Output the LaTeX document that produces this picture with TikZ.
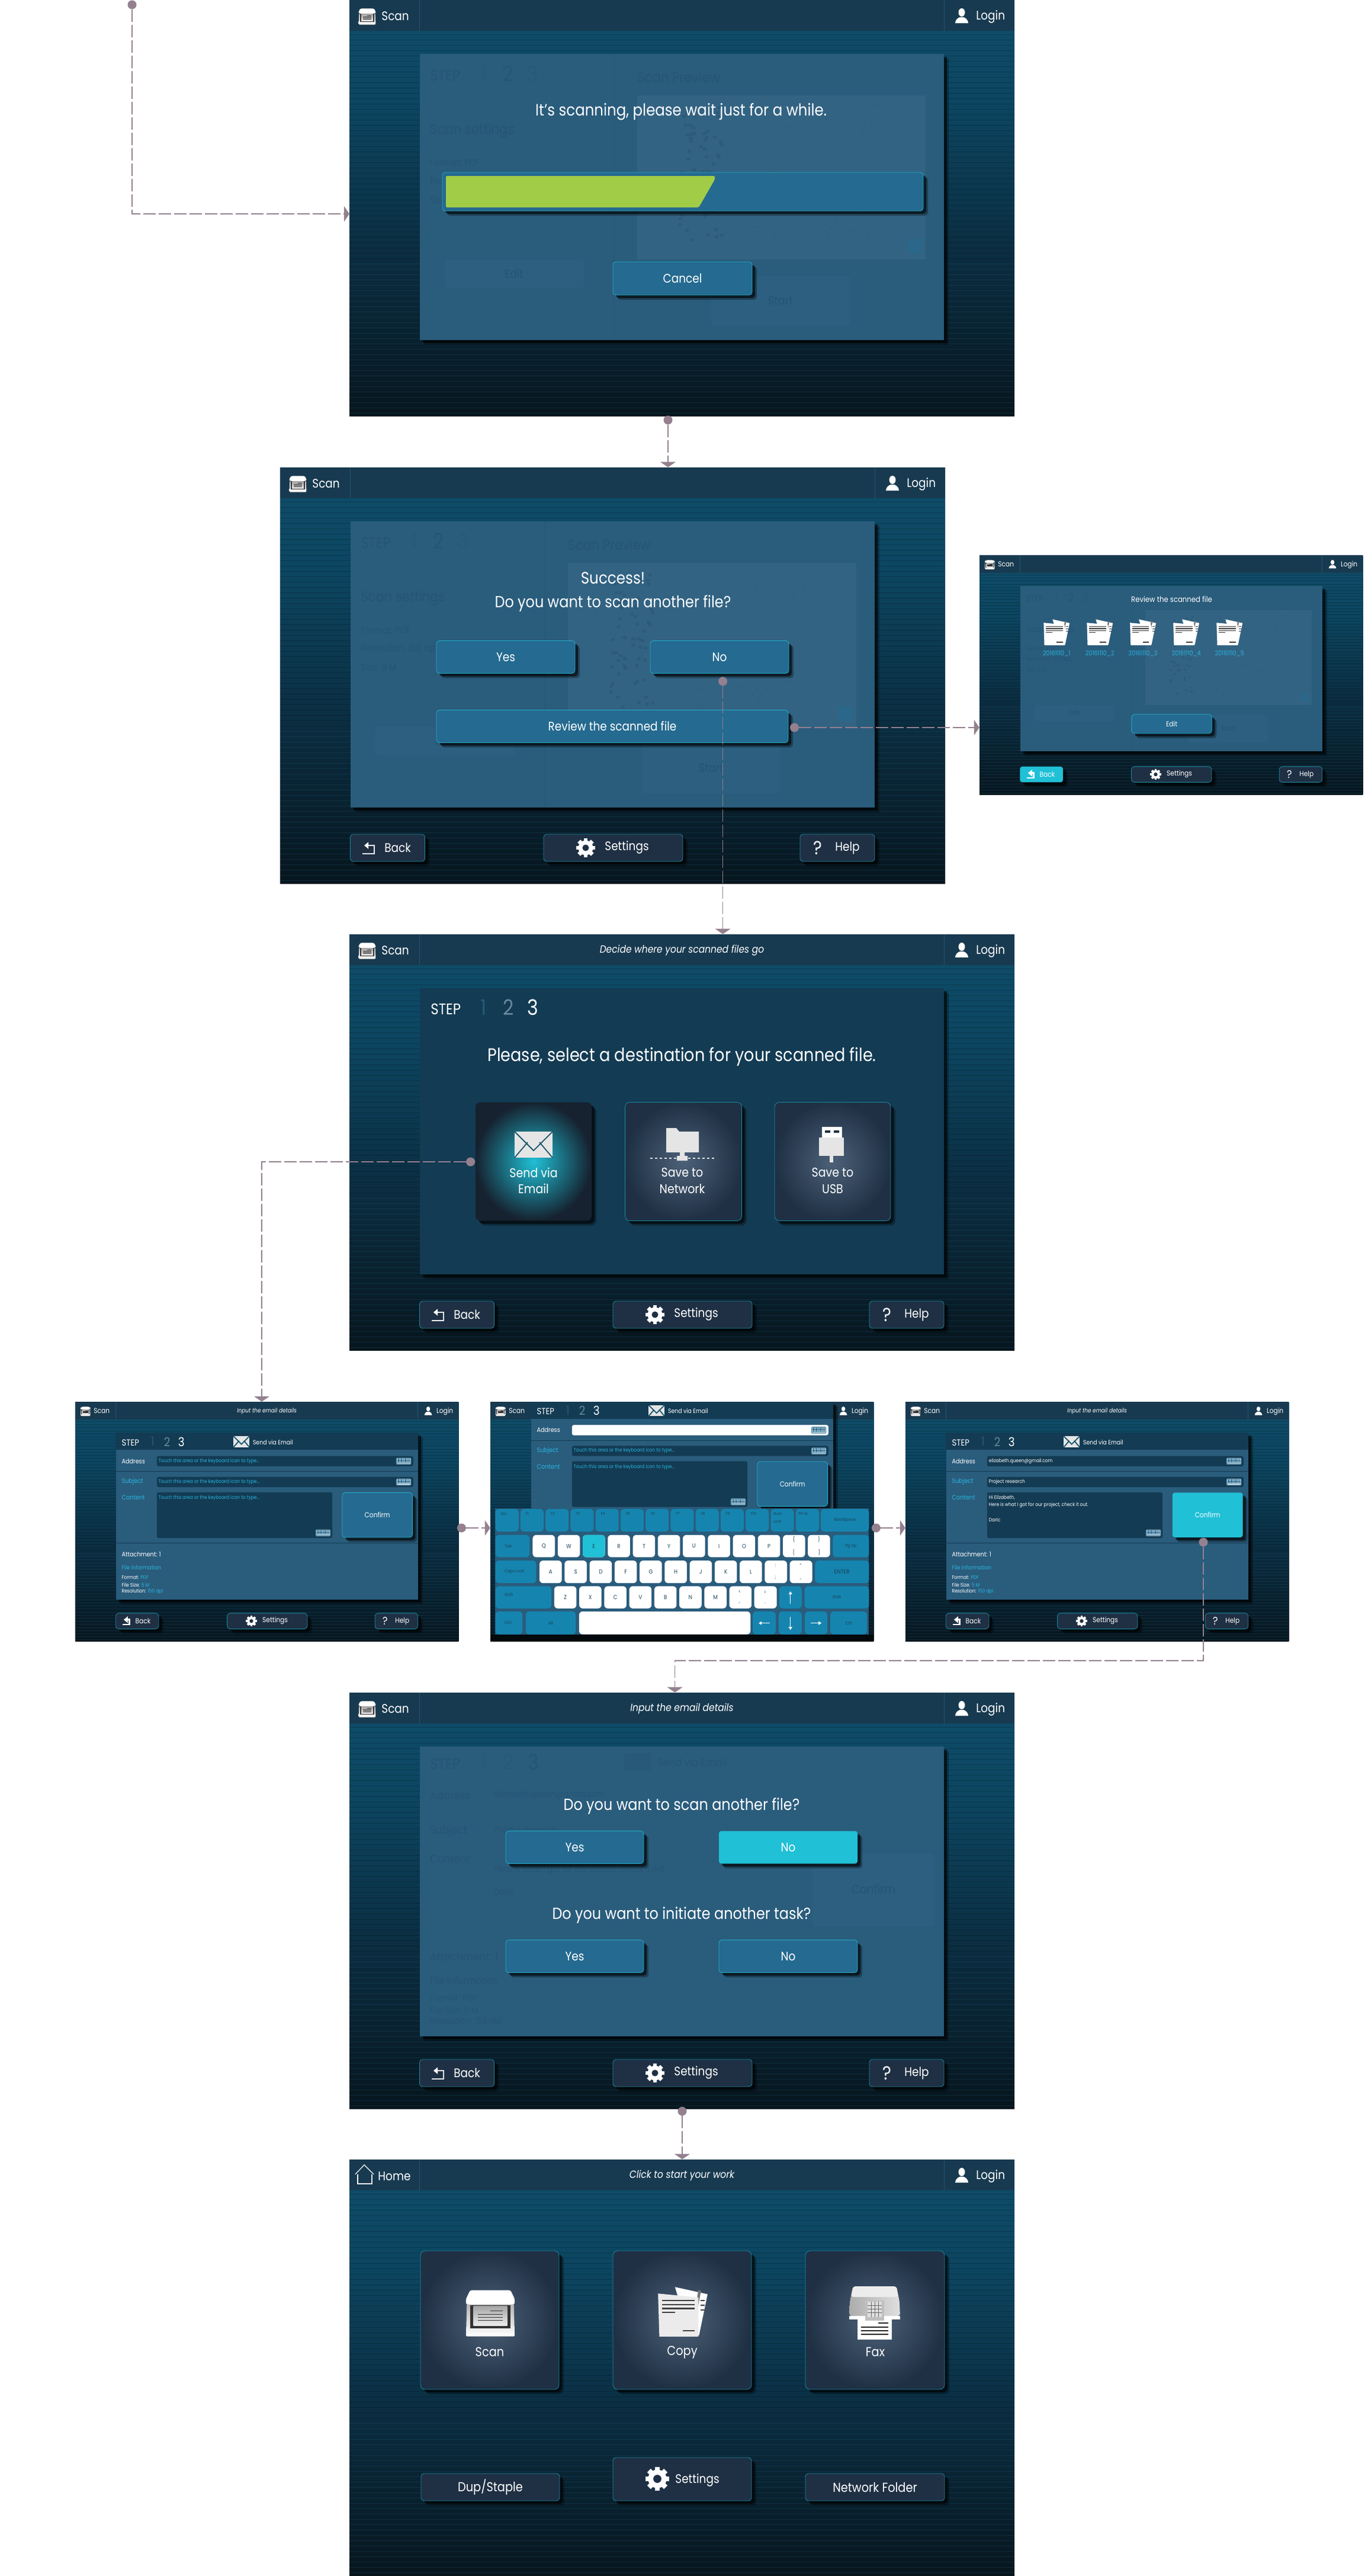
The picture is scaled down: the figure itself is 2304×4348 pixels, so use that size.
\documentclass[tikz,border=0pt]{standalone}
\usepackage{fontspec}
\setmainfont{Poppins}[FakeStretch=0.88]
\usetikzlibrary{arrows.meta,shadows,calc}

\definecolor{barblue}{HTML}{183A50}
\definecolor{bardiv}{HTML}{1C5674}
\definecolor{panelblue}{HTML}{2A5C7C}
\definecolor{paneldark}{HTML}{133B53}
\definecolor{ghosttxt}{HTML}{265575}
\definecolor{ghostfaint}{HTML}{285978}
\definecolor{ghostfill}{HTML}{2C5F80}
\definecolor{previewblue}{HTML}{336382}
\definecolor{previewink}{HTML}{2D5B79}
\definecolor{btnblue}{HTML}{256A90}
\definecolor{btnline}{HTML}{22AECB}
\definecolor{navybtn}{HTML}{1F3044}
\definecolor{cardmid}{HTML}{4C6178}
\definecolor{hotcyan}{HTML}{20C0D6}
\definecolor{barfill}{HTML}{A0CC48}
\definecolor{linkblue}{HTML}{29B4DE}
\definecolor{keyblue}{HTML}{1585B0}
\definecolor{keytxt}{HTML}{1B4358}
\definecolor{flowline}{HTML}{94808F}
\definecolor{screentop}{HTML}{115674}
\definecolor{screenmid}{HTML}{0C4560}
\definecolor{screenlow}{HTML}{0B2E42}
\definecolor{screenend}{HTML}{07161E}

\pgfdeclareverticalshading{screenshade}{100bp}{
  color(0bp)=(screenend); color(25bp)=(screenend);
  color(45bp)=(screenlow); color(62bp)=(screenmid);
  color(88bp)=(screentop); color(100bp)=(screentop)}

\tikzset{
	bw/.style={minimum width={#1*0.5pt}},
	bh/.style={minimum height={#1*0.5pt}},
	fs/.style={font=\fontsize{#1}{#1}\selectfont},
	txt/.style={text=white, inner sep=0pt, fs=10},
	screenbg/.style={shading=screenshade, minimum width=561.5pt, minimum height=351pt, inner sep=0pt},
	stripe/.style={black, opacity=.2, line width=.5pt},
	glowstripe/.style={bardiv, opacity=.3, line width=.5pt},
	topbar/.style={fill=barblue, minimum width=561.5pt, minimum height=26pt, inner sep=0pt},
	dropoff/.style={
		drop shadow={shadow xshift=4pt, shadow yshift=-4pt, fill=black, opacity=.3},
		drop shadow={shadow xshift=2.5pt, shadow yshift=-2.5pt, fill=black, opacity=.6}},
	panelbox/.style={fill=panelblue, inner sep=0pt, dropoff},
	bluebtn/.style={fill=btnblue, draw=btnline, line width=.4pt, rounded corners=2.5pt, inner sep=0pt, text=white, fs=10.5, dropoff},
	navy/.style={fill=navybtn, draw=btnline!80!black, line width=.4pt, rounded corners=2.5pt, inner sep=0pt, text=white, fs=11, dropoff},
	hotbtn/.style={fill=hotcyan, rounded corners=2pt, inner sep=0pt, text=white, fs=10.5, dropoff},
	cardbtn/.style={shading=radial, inner color=cardmid, outer color=navybtn, draw=btnline!80!black, line width=.4pt, rounded corners=4pt, inner sep=0pt, dropoff},
	hotcard/.style={shading=radial, inner color=hotcyan, outer color=navybtn!70!black, rounded corners=4pt, inner sep=0pt, dropoff},
	fieldbox/.style={fill=paneldark, rounded corners=1.5pt, inner sep=0pt},
	bluekey/.style={fill=keyblue, rounded corners=3pt, inner sep=0pt},
	whitekey/.style={fill=white, rounded corners=3pt, inner sep=0pt},
	hotkey/.style={fill=hotcyan, rounded corners=3pt, inner sep=0pt},
	ghostbtn/.style={fill=ghostfill, rounded corners=2pt, inner sep=0pt},
	flowdot/.style={circle, fill=flowline, minimum size=7.5pt, inner sep=0pt},
	flow/.style={flowline, line width=.8pt, dash pattern=on 10.5pt off 2.5pt, -{Triangle[length=4.5pt, width=13pt]}},
	keyarrow/.style={white, line width=.4pt, -{Triangle[length=2.5pt, width=3pt]}}
}

\newcounter{lbl}
\newcommand{\lbl}[3][]{\stepcounter{lbl}\node[txt,#1] (lbl\thelbl) at (#2) {#3};}

% icons, all drawn round their centre
\newcommand{\scanicon}[2]{
	\begin{scope}[shift={(#1)}, scale=#2, xscale=1.42]
		\fill[top color=gray!60, bottom color=white, rounded corners=1pt] (-28,16) -- (28,16) -- (29,-39) -- (-29,-39) -- cycle;
		\fill[black!80] (-24,14) rectangle (24,-25);
		\fill[top color=gray!70, bottom color=gray!15] (-20,12) rectangle (20,-21);
		\foreach \yy in {-1,-6,-11} {\fill[black!80] (-15,\yy) rectangle (15,\yy-1.4);}
		\fill[black!80] (0,5) rectangle (15,3.6);
		\fill[white, rounded corners=1.5pt] (-24,39) -- (24,39) -- (29,24) -- (29,15) -- (-29,15) -- (-29,24) -- cycle;
	\end{scope}
}
\newcommand{\usericon}[1]{
	\begin{scope}[shift={(#1)}]
		\fill[white] (0,6) ellipse (5.5 and 7);
		\fill[white] (-11,-12) .. controls (-10,-4) and (-5,-3) .. (-3,-2) -- (3,-2) .. controls (5,-3) and (10,-4) .. (11,-12) -- cycle;
	\end{scope}
}
\newcommand{\gearicon}[3]{
	\begin{scope}[shift={(#1)}, scale=#2]
		\foreach \a in {0,45,...,315} {\fill[white, rotate=\a] (-3.4,10) rectangle (3.4,16);}
		\fill[white] (0,0) circle (12.5);
		\fill[#3] (0,0) circle (5.5);
	\end{scope}
}
\newcommand{\backicon}[1]{
	\begin{scope}[shift={(#1)}]
		\draw[white, line width=1.4pt, -{Triangle[length=3.5pt, width=5.5pt]}] (-10,-10) -- (10,-10) -- (10,4) -- (-7,4);
	\end{scope}
}
\newcommand{\envicon}[2]{
	\begin{scope}[shift={(#1)}, scale=#2]
		\fill[black!10] (-32,-22) rectangle (32,22);
		\draw[paneldark!80!hotcyan, line width=.9pt] (-32,22) -- (0,-10) -- (32,22) (-32,-22) -- (-10,4) (32,-22) -- (10,4);
	\end{scope}
}
\newcommand{\docicon}[3]{
	\begin{scope}[shift={(#1)}, scale=#2]
		\fill[white] (-12,38) -- (38,27) -- (25,-36) -- (10,-36) -- cycle;
		\fill[black!55] (24,34) -- (28,32) -- (15,-36) -- (13,-36) -- cycle;
		\fill[#3] (-38,28) -- (24,22) -- (24,-38) -- (-36,-38) -- cycle;
		\foreach \yy in {18,12,6} {\fill[black!75] (-32,\yy) rectangle (18,\yy-2);}
		\fill[black!75] (-32,0) rectangle (-12,-2);
		\fill[black!75] (0,-28) rectangle (18,-30);
		\foreach \yy in {18,11,4} {\fill[black!75] (27,\yy) rectangle (34,\yy-2);}
	\end{scope}
}
\newcommand{\faxicon}[2]{
	\begin{scope}[shift={(#1)}, scale=#2]
		\fill[white] (-29,-10) rectangle (29,-46);
		\foreach \yy in {-24,-30,-36} {\fill[black!85] (-23,\yy) rectangle (23,\yy-1.6);}
		\fill[black!85] (6,-17) rectangle (23,-18.6);
		\fill[left color=gray!65, right color=gray!25, rounded corners=2pt] (-37,44) -- (37,44) -- (42,18) -- (43,-6) -- (-43,-6) -- (-42,18) -- cycle;
		\fill[gray!15, rounded corners=2pt] (-36,44) -- (36,44) -- (40,26) -- (-40,26) -- cycle;
		\fill[white] (-43,-6) rectangle (43,-12);
		\fill[gray!50] (-16,20) -- (16,20) -- (16,-14) -- (-16,-14) -- cycle;
		\fill[gray!25] (-12,18) rectangle (12,-8);
		\foreach \xx in {-6,0,6} {\draw[black!60, line width=.3pt] (\xx,18) -- (\xx,-8);}
		\foreach \yy in {12,6,0} {\draw[black!60, line width=.3pt] (-12,\yy) -- (12,\yy);}
	\end{scope}
}
\newcommand{\kbdicon}[1]{
	\begin{scope}[shift={(#1)}]
		\fill[btnblue!70!white, rounded corners=1pt] (-22,-10) rectangle (22,10);
		\fill[white!80!btnblue] (-19,-3) rectangle (19,7);
		\foreach \xx in {-17,-14,...,17} {\draw[btnblue, line width=.25pt] (\xx,-3) -- (\xx,7);}
		\draw[btnblue, line width=.25pt] (-19,2) -- (19,2);
		\fill[white!80!btnblue] (-19,-7) rectangle (19,-5);
	\end{scope}
}

% the frame every screen shares
\newcommand{\scantab}{
	\scanicon{30,-28}{.35}
	\lbl[anchor=west, fs=10.5]{54,-27}{Scan}
}
\newcommand{\hometab}{
	\draw[white, line width=.6pt] (10,-25) -- (25,-9) -- (41,-25);
	\draw[white, line width=.6pt] (14,-25) -- (14,-41) -- (38,-41) -- (38,-25);
	\lbl[anchor=west, fs=10.5]{48,-28}{Home}
}
\newcommand{\screenframe}[3][\scantab]{
	\node[screenbg] (#2) at (561.5,-351) {};
	\foreach \yy in {58,67,...,436} {\draw[stripe] (0,-\yy) -- (1123,-\yy);}
	\foreach \yy in {445,454,...,700} {\draw[glowstripe] (0,-\yy) -- (1123,-\yy);}
	\node[topbar] (#2bar) at (561.5,-26) {};
	\draw[bardiv, line width=.4pt] (118,0) -- (118,-52) (1004,0) -- (1004,-52);
	#1
	\usericon{1034,-27}
	\lbl[anchor=west, fs=10.5]{1058,-28}{Login}
	\lbl[fs=8.8, font=\fontsize{8.8}{8.8}\selectfont\itshape]{561.5,-27}{#3}
}
\newcommand{\footerbar}[2][navy]{
	\node[#1, bw=126, bh=46] (#2back) at (181.5,-642) {};
	\backicon{149,-642}
	\lbl[anchor=west, fs=10.5]{176,-642}{Back}
	\node[navy, bw=235, bh=46] (#2set) at (562.5,-642) {};
	\gearicon{516,-642}{1}{navybtn}
	\lbl[anchor=west, fs=10.5]{548,-641}{Settings}
	\node[navy, bw=126, bh=46] (#2help) at (941,-642) {};
	\lbl[fs=16]{908,-642}{?}
	\lbl[anchor=west, fs=10.5]{937,-642}{Help}
}
% the earlier step, seen through a dialog
\newcommand{\ghostscan}{
	\fill[ghostfaint] (446,-91) rectangle (448,-574);
	\lbl[anchor=west, fs=13, text=ghosttxt]{136,-127}{STEP}
	\lbl[fs=18, text=ghostfaint]{227,-124}{1}
	\lbl[fs=18, text=ghosttxt]{268,-124}{2}
	\lbl[fs=18, text=ghostfaint]{310,-124}{3}
	\lbl[anchor=west, fs=12, text=ghosttxt]{486,-130}{Scan Preview}
	\lbl[anchor=west, fs=12, text=ghosttxt]{136,-221}{Scan settings}
	\lbl[anchor=west, fs=8, text=ghosttxt]{136,-275}{Format: PDF}
	\lbl[anchor=west, fs=8, text=ghosttxt]{136,-306}{Resolution: 150 dpi}
	\lbl[anchor=west, fs=8, text=ghosttxt]{136,-338}{Size: 8 M}
	\fill[previewblue] (486,-161) rectangle (973,-438);
	\pgfmathsetseed{11}
	\foreach \i in {1,...,70} {
		\pgfmathsetmacro\gx{556+rnd*72}
		\pgfmathsetmacro\gy{-178-rnd*228}
		\fill[previewink] (\gx,\gy) rectangle ++(6,-5);
	}
	\foreach \sx/\sy in {695/178,800/178,695/290,800/290,695/360,800/360} {
		\foreach \i in {1,...,7} {
			\pgfmathsetmacro\ga{\sx+rnd*85}
			\pgfmathsetmacro\gb{-\sy-rnd*50}
			\draw[previewink, line width=.2pt] (\ga,\gb) -- ++(rnd*30-15,rnd*30-15);
		}
	}
	\fill[btnblue!60!previewblue] (942,-403) rectangle (967,-428);
	\node[ghostbtn, bw=235, bh=48] (ghostedit\thelbl) at (278.5,-462) {};
	\lbl[fs=10, text=ghosttxt]{278,-462}{Edit}
	\node[ghostbtn, bw=234, bh=84] (ghoststart\thelbl) at (728,-508) {};
	\lbl[fs=10, text=ghosttxt]{728,-508}{Start}
}
% the email form: name, three field texts, text colour, confirm style, address fill
\newcommand{\emailform}[7]{
	\node[panelbox, bw=885, bh=489] (#1panel) at (561.5,-335.5) {};
	\fill[paneldark] (118.5,-91) rectangle (1003.5,-141);
	\fill[paneldark] (118.5,-203) rectangle (1003.5,-205);
	\fill[paneldark] (118.5,-412) rectangle (1003.5,-415);
	\lbl[anchor=west, fs=13]{136,-120}{STEP}
	\lbl[fs=18, text=ghostfaint]{227,-117}{1}
	\lbl[fs=18, text=ghosttxt!70!white]{269,-117}{2}
	\lbl[fs=18]{311,-117}{3}
	\envicon{487,-117}{.72}
	\lbl[anchor=west, fs=9.2]{520,-118}{Send via Email}
	\lbl[anchor=west, fs=9.5]{136,-174}{Address}
	\node[fieldbox, fill=#7, bw=751, bh=30] (#1addr) at (614.5,-174) {};
	\kbdicon{962,-174}
	\lbl[anchor=west, fs=7.4, text=#5]{244,-174}{#2}
	\lbl[anchor=west, fs=9.5, text=linkblue]{136,-234}{Subject}
	\node[fieldbox, bw=751, bh=30] (#1subj) at (614.5,-235) {};
	\kbdicon{962,-235}
	\lbl[anchor=west, fs=7.4, text=#5]{244,-234}{#3}
	\lbl[anchor=west, fs=9.5, text=linkblue]{136,-281}{Content}
	\node[fieldbox, bw=514, bh=134] (#1body) at (496,-332) {};
	\kbdicon{726,-384}
	\lbl[anchor=north west, align=left, fs=7.4, text=#5]{244,-274}{#4}
	\node[#6, bw=206, bh=131] (#1ok) at (885,-331.5) {Confirm};
	\lbl[anchor=west, fs=9.5]{136,-446}{Attachment: 1}
	\lbl[anchor=west, fs=8.5, text=linkblue]{136,-486}{File Information}
	\lbl[anchor=west, fs=7.5]{136,-515}{Format: \textcolor{linkblue}{PDF}}
	\lbl[anchor=west, fs=7.5]{136,-536}{File Size: \textcolor{linkblue}{5 M}}
	\lbl[anchor=west, fs=7.5]{136,-556}{Resolution: \textcolor{linkblue}{150 dpi}}
}
\newcommand{\keycap}[6][bluekey]{
	\pgfmathsetmacro\kx{(#2+#3)/2}
	\pgfmathsetmacro\ky{-(#4+#5)/2}
	\pgfmathsetmacro\kw{#3-#2}
	\pgfmathsetmacro\kh{#5-#4}
	\stepcounter{lbl}
	\node[#1, bw=\kw, bh=\kh, text=keytxt, fs=6.5] (key\thelbl) at (\kx,\ky) {#6};
}

\begin{document}
\begin{tikzpicture}[x=.5pt, y=.5pt]
	\fill[white] (0,0) rectangle (2304,-4348);
	\useasboundingbox (0,0) rectangle (2304,-4348);

	% scanning
	\begin{scope}[shift={(590,0)}]
		\screenframe{scanwait}{}
		\node[panelbox, bw=885, bh=483] (scanwaitpanel) at (561.5,-332.5) {};
		\ghostscan
		\lbl[fs=13.9]{560,-189}{It’s scanning, please wait just for a while.}
		\node[bluebtn, bw=812, bh=65] (progress) at (563,-323.5) {};
		\fill[barfill, rounded corners=1pt] (163,-297) -- (617,-297) -- (617,-303) -- (590,-350) -- (163,-350) -- cycle;
		\node[bluebtn, bw=235, bh=56] (cancel) at (562.5,-470) {Cancel};
	\end{scope}

	% success
	\begin{scope}[shift={(473,-789)}]
		\screenframe{success}{}
		\node[panelbox, bw=885, bh=483] (successpanel) at (561.5,-332.5) {};
		\ghostscan
		\lbl[fs=14]{562,-187}{Success!}
		\lbl[fs=13.6]{562,-230}{Do you want to scan another file?}
		\node[bluebtn, bw=234, bh=55] (successyes) at (381,-320) {Yes};
		\node[bluebtn, bw=234, bh=55] (successno) at (742,-320) {No};
		\node[bluebtn, bw=594, bh=55] (successreview) at (561,-437) {Review the scanned file};
		\footerbar{success}
	\end{scope}

	% review
	\begin{scope}[shift={(1654,-937)}, scale=.5765, transform shape]
		\screenframe{review}{}
		\node[panelbox, bw=885, bh=483] (reviewpanel) at (561.5,-332.5) {};
		\ghostscan
		\lbl[fs=11.5]{563,-129}{Review the scanned file}
		\foreach \dx [count=\n] in {226,352.6,478.9,605.6,732.4} {
			\docicon{\dx,-226}{1}{white}
			\lbl[fs=9.5, text=linkblue]{\dx,-288}{20161110\_\n}
		}
		\node[bluebtn, bw=235, bh=56] (reviewedit) at (563,-494) {Edit};
		\footerbar[hotbtn]{review}
	\end{scope}

	% destination
	\begin{scope}[shift={(590,-1577)}]
		\screenframe{dest}{Decide where your scanned files go}
		\node[panelbox, fill=paneldark, bw=885, bh=483] (destpanel) at (561.5,-332.5) {};
		\lbl[anchor=west, fs=13]{137,-126}{STEP}
		\lbl[fs=18, text=ghostfaint]{227,-123}{1}
		\lbl[fs=18, text=ghosttxt!70!white]{269,-123}{2}
		\lbl[fs=18]{310,-123}{3}
		\lbl[fs=15.4]{561.5,-207}{Please, select a destination for your scanned file.}
		\node[hotcard, bw=196, bh=200] (destmail) at (311,-383.5) {};
		\node[cardbtn, bw=197, bh=200] (destnet) at (564,-383.5) {};
		\node[cardbtn, bw=196, bh=200] (destusb) at (816,-383.5) {};
		\envicon{311,-355}{1}
		\lbl[align=center, fs=10.8]{311,-416}{Send via\\[3pt]Email}
		\fill[black!10] (535,-333) -- (535,-327) -- (552,-327) -- (557,-333) -- (590,-333) -- (590,-368) -- (535,-368) -- cycle;
		\fill[black!10] (558,-368) rectangle (566,-378) (553,-374) rectangle (571,-382);
		\draw[black!10, line width=1pt, dash pattern=on 2pt off 2pt] (508,-378) -- (616,-378);
		\lbl[align=center, fs=10.8]{562,-416}{Save to\\[3pt]Network}
		\fill[white] (798,-325) rectangle (832,-343);
		\fill[navybtn] (803,-331) rectangle (812,-335) (818,-331) rectangle (827,-335);
		\fill[black!10] (793,-343) rectangle (835,-374);
		\fill[black!10] (811,-374) rectangle (817,-385);
		\lbl[align=center, fs=10.8]{816,-416}{Save to\\[3pt]USB}
		\footerbar{dest}
	\end{scope}

	% email details
	\begin{scope}[shift={(127,-2366)}, scale=.5765, transform shape]
		\screenframe{mailempty}{Input the email details}
		\emailform{mailempty}{Touch this area or the keyboard icon to type...}{Touch this area or the keyboard icon to type...}{Touch this area or the keyboard icon to type...}{linkblue}{bluebtn}{paneldark}
		\footerbar{mailempty}
	\end{scope}

	% typing
	\begin{scope}[shift={(828,-2366)}, scale=.5765, transform shape]
		\screenframe{mailkeys}{}
		\begin{scope}[shift={(0,91)}]
			\emailform{mailkeys}{}{Touch this area or the keyboard icon to type...}{Touch this area or the keyboard icon to type...}{linkblue}{bluebtn}{white}
		\end{scope}
		\fill[panelblue] (14,-313) rectangle (1109,-681);
		\fill[black!85!paneldark] (0,-681) rectangle (1123,-702);
		\keycap{15}{83}{314}{380}{}
		\foreach \k [count=\n from 1] in {F1,F2,F3,F4,F5,F6,F7,F8,F9,F10,,} {
			\pgfmathsetmacro\kl{15+73.3*\n}
			\pgfmathsetmacro\kr{\kl+67.7}
			\keycap{\kl}{\kr}{314}{380}{}
		}
		\lbl[anchor=west, fs=6, text=keytxt]{31,-328}{Esc}
		\foreach \k [count=\n from 1] in {F1,F2,F3,F4,F5,F6,F7,F8,F9,F10} {
			\pgfmathsetmacro\kl{15+73.3*\n+15}
			\lbl[anchor=west, fs=6, text=keytxt]{\kl,-328}{\k}
		}
		\lbl[anchor=north west, align=left, fs=6, text=keytxt]{829,-324}{Num\\[5pt]Lock}
		\lbl[anchor=west, fs=6, text=keytxt]{902,-328}{Prt Sc}
		\keycap{968}{1109}{314}{380}{Backspace}
		% second row
		\keycap{15}{115}{390}{455}{}
		\lbl[anchor=west, fs=6.5, text=keytxt]{41,-422}{Tab}
		\foreach \k [count=\n from 0] in {Q,W,E,R,T,Y,U,I,O,P} {
			\pgfmathsetmacro\kl{124+73.3*\n}
			\pgfmathsetmacro\kr{\kl+65.3}
			\keycap[whitekey]{\kl}{\kr}{390}{455}{\fontsize{8.5}{8.5}\selectfont\k}
		}
		\keycap[hotkey]{270.6}{335.9}{390}{455}{\fontsize{8.5}{8.5}\selectfont E}
		\keycap[whitekey]{857}{922}{390}{455}{}
		\lbl[align=center, fs=7.5, text=keytxt]{889,-422}{\{\\[9pt]{[}}
		\keycap[whitekey]{930}{995}{390}{455}{}
		\lbl[align=center, fs=7.5, text=keytxt]{963,-422}{\}\\[9pt]{]}}
		\keycap{1003}{1109}{390}{455}{Pg Up}
		% third row
		\keycap{15}{134}{465}{531}{}
		\lbl[anchor=west, fs=6.5, text=keytxt]{41,-498}{Caps Lock}
		\foreach \k [count=\n from 0] in {A,S,D,F,G,H,J,K,L} {
			\pgfmathsetmacro\kl{144+73.3*\n}
			\pgfmathsetmacro\kr{\kl+65.3}
			\keycap[whitekey]{\kl}{\kr}{465}{531}{\fontsize{8.5}{8.5}\selectfont\k}
		}
		\keycap[whitekey]{803.7}{869}{465}{531}{}
		\lbl[align=center, fs=7, text=keytxt]{835,-498}{:\\[10pt];}
		\keycap[whitekey]{877}{943}{465}{531}{}
		\lbl[align=center, fs=7, text=keytxt]{909,-498}{"\\[10pt],}
		\keycap{951}{1109}{465}{531}{\fontsize{9}{9}\selectfont ENTER}
		% fourth row
		\keycap{15}{179}{540}{605}{}
		\lbl[anchor=west, fs=6.5, text=keytxt]{41,-565}{Shift}
		\foreach \k [count=\n from 0] in {Z,X,C,V,B,N,M} {
			\pgfmathsetmacro\kl{187+73.3*\n}
			\pgfmathsetmacro\kr{\kl+65.3}
			\keycap[whitekey]{\kl}{\kr}{540}{605}{\fontsize{8.5}{8.5}\selectfont\k}
		}
		\keycap[whitekey]{700}{765.3}{540}{605}{}
		\lbl[align=center, fs=7, text=keytxt]{730,-572}{<\\[7pt],}
		\keycap[whitekey]{773}{839}{540}{605}{}
		\lbl[align=center, fs=7, text=keytxt]{805,-572}{>\\[7pt].}
		\keycap{846.5}{912}{540}{605}{}
		\draw[keyarrow] (879,-591) -- (879,-555);
		\keycap{920.6}{1109}{540}{605}{Shift}
		% bottom row
		\keycap{15}{94}{614}{681}{}
		\lbl[anchor=west, fs=6.5, text=keytxt]{41,-646}{Ctrl}
		\keycap{104}{250}{614}{681}{Alt}
		\keycap[whitekey]{260}{762}{614}{681}{}
		\keycap{768.5}{835.7}{614}{681}{}
		\draw[keyarrow] (818,-648) -- (786,-648);
		\keycap{845}{912}{614}{681}{}
		\draw[keyarrow] (879,-630) -- (879,-668);
		\keycap{921.4}{987}{614}{681}{}
		\draw[keyarrow] (938,-648) -- (970,-648);
		\keycap{996}{1103}{614}{681}{Ctrl}
	\end{scope}

	% filled in
	\begin{scope}[shift={(1529,-2366)}, scale=.5765, transform shape]
		\screenframe{mailfull}{Input the email details}
		\emailform{mailfull}{elizabeth.queen@gmail.com}{Project research}{Hi Elizabeth,\\[3pt]Here is what I got for our project, check it out.\\[14pt]Daric}{white}{hotbtn}{paneldark}
		\footerbar{mailfull}
	\end{scope}

	% another task
	\begin{scope}[shift={(590,-2857)}]
		\screenframe{again}{Input the email details}
		\node[panelbox, bw=885, bh=489] (againpanel) at (561.5,-335.5) {};
		\lbl[anchor=west, fs=13, text=ghosttxt]{136,-120}{STEP}
		\lbl[fs=18, text=ghostfaint]{227,-117}{1}
		\lbl[fs=18, text=ghostfaint]{269,-117}{2}
		\lbl[fs=18, text=ghosttxt]{311,-117}{3}
		\lbl[anchor=west, fs=9.2, text=ghosttxt]{520,-118}{Send via Email}
		\fill[ghostfaint] (464,-102) rectangle (510,-132);
		\lbl[anchor=west, fs=9.5, text=ghosttxt]{136,-174}{Address}
		\lbl[anchor=west, fs=7.4, text=ghosttxt]{244,-173}{elizabeth.queen@gmail.com}
		\lbl[anchor=west, fs=9.5, text=ghosttxt]{136,-234}{Subject}
		\lbl[anchor=west, fs=7.4, text=ghosttxt]{244,-233}{Project research}
		\lbl[anchor=west, fs=9.5, text=ghosttxt]{136,-281}{Content}
		\lbl[anchor=west, fs=7.4, text=ghosttxt]{244,-299}{Here is what I got for our project, check it out.}
		\lbl[anchor=west, fs=7.4, text=ghosttxt]{244,-336}{Daric}
		\node[ghostbtn, bw=206, bh=125] (againghost) at (885,-333) {};
		\lbl[fs=10.5, text=ghosttxt]{885,-332}{Confirm}
		\lbl[anchor=west, fs=9.5, text=ghosttxt]{136,-446}{Attachment: 1}
		\lbl[anchor=west, fs=8.5, text=ghosttxt]{136,-486}{File Information}
		\lbl[anchor=west, fs=7.5, text=ghosttxt]{136,-515}{Format: PDF}
		\lbl[anchor=west, fs=7.5, text=ghosttxt]{136,-536}{File Size: 5 M}
		\lbl[anchor=west, fs=7.5, text=ghosttxt]{136,-556}{Resolution: 150 dpi}
		\lbl[fs=13.6]{561,-192}{Do you want to scan another file?}
		\node[bluebtn, bw=233, bh=55] (againyes) at (380.5,-261) {Yes};
		\node[hotbtn, bw=234, bh=55] (againno) at (741,-261) {No};
		\lbl[fs=13.6]{561,-376}{Do you want to initiate another task?}
		\node[bluebtn, bw=233, bh=55] (taskyes) at (380.5,-445) {Yes};
		\node[bluebtn, bw=234, bh=55] (taskno) at (741,-445) {No};
		\footerbar{again}
	\end{scope}

	% home
	\begin{scope}[shift={(590,-3645)}]
		\screenframe[\hometab]{home}{Click to start your work}
		\node[cardbtn, bw=234, bh=234] (homescan) at (237,-271) {};
		\node[cardbtn, bw=234, bh=234] (homecopy) at (562,-271) {};
		\node[cardbtn, bw=235, bh=234] (homefax) at (887.5,-271) {};
		\scanicon{238,-259.5}{1}
		\lbl[fs=11]{237,-325}{Scan}
		\docicon{563,-257}{1.1}{black!8}
		\lbl[fs=11]{562,-326}{Copy}
		\faxicon{887,-258}{1}
		\lbl[fs=11]{888,-325}{Fax}
		\node[navy, bw=234, bh=46] (homedup) at (238,-553) {Dup/Staple};
		\node[navy, bw=234, bh=73] (homeset) at (562,-539.5) {};
		\gearicon{520,-539}{1.25}{navybtn}
		\lbl[anchor=west, fs=10.5]{550,-541}{Settings}
		\node[navy, bw=235, bh=46] (homenet) at (887.5,-553) {Network Folder};
	\end{scope}

	% flow between the screens
	\node[flowdot] (startdot) at (223,-8) {};
	\node[flowdot] (waitdot) at (1128,-709) {};
	\node[flowdot] (nodot) at (1220.6,-1150) {};
	\node[flowdot] (reviewdot) at (1341.5,-1228) {};
	\node[flowdot] (maildot) at (794.6,-1961) {};
	\node[flowdot] (typedot) at (779.4,-2579) {};
	\node[flowdot] (fulldot) at (1479.4,-2579) {};
	\node[flowdot] (confirmdot) at (2032,-2603) {};
	\node[flowdot] (againdot) at (1152,-3563.5) {};
	\coordinate (waitin) at (590,-361);
	\coordinate (elbowmail) at (442,-1961);
	\coordinate (elbowfull) at (1139.6,-2803);

	\draw[flow] (startdot) |- (waitin);
	\draw[flow] (waitdot) -- (waitdot |- success.north);
	\draw[flow] (nodot) -- (nodot |- dest.north);
	\draw[flow] (reviewdot) -- (reviewdot -| review.west);
	\draw[flow] (maildot) -- (elbowmail) -- (elbowmail |- mailempty.north);
	\draw[flow] (typedot) -- (typedot -| mailkeys.west);
	\draw[flow] (fulldot) -- (fulldot -| mailfull.west);
	\draw[flow] (confirmdot) |- (elbowfull) -- (elbowfull |- again.north);
	\draw[flow] (againdot) -- (againdot |- home.north);
\end{tikzpicture}
\end{document}
